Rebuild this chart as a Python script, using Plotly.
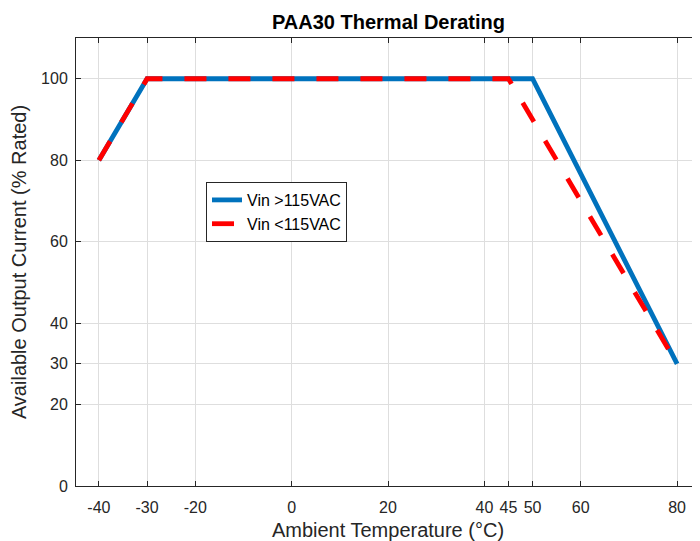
import plotly.graph_objects as go

# Data
temp_high = [-40, -30, 50, 80]
curr_high = [80, 100, 100, 30]
temp_low = [-40, -30, 45, 80]
curr_low = [80, 100, 100, 30]
x_ticks = [-40, -30, -20, 0, 20, 40, 45, 50, 60, 80]
x_tick_labels = ["-40", "-30", "-20", "0", "20", "40", "45", "50", "60", "80"]
y_ticks = [0, 20, 30, 40, 60, 80, 100]

FONT = "Liberation Sans, Arial, Helvetica, sans-serif"
AX = "#262626"

# page body has an 8px default margin: figure is sized/positioned to compensate
W, H = 692, 533

fig = go.Figure()
fig.add_trace(go.Scatter(x=temp_high, y=curr_high, mode="lines", name="Vin >115VAC",
                         line=dict(color="#0072BD", width=4.8)))
fig.add_trace(go.Scatter(x=temp_low, y=curr_low, mode="lines", name="Vin <115VAC",
                         line=dict(color="#FF0000", width=4.8, dash="22px,22px")))

axis_common = dict(showline=True, linecolor=AX, linewidth=1, mirror="ticks",
                   ticks="inside", ticklen=5, tickcolor=AX, automargin=False,
                   showgrid=True, gridcolor="#dedede", gridwidth=1,
                   zeroline=False, tickfont=dict(family=FONT, size=16, color=AX))

fig.update_layout(
    width=W, height=H,
    margin=dict(l=68, r=0, t=30, b=55),
    plot_bgcolor="white", paper_bgcolor="white",
    title=dict(text="<b>PAA30 Thermal Derating</b>", x=380.5 / W, xanchor="center",
               y=1 - 14 / H, yanchor="middle", yref="container",
               font=dict(family=FONT, size=20, color="black")),
    xaxis=dict(range=[-44.75, 84.75], tickvals=x_ticks, ticktext=x_tick_labels,
               ticklabelstandoff=7,
               title=dict(text="Ambient Temperature (°C)", standoff=9,
                          font=dict(family=FONT, size=20, color=AX)),
               **axis_common),
    yaxis=dict(range=[0, 110], tickvals=y_ticks, ticklabelstandoff=4,
               title=dict(text="Available Output Current (% Rated)", standoff=16,
                          font=dict(family=FONT, size=20, color=AX)),
               **axis_common),
    legend=dict(x=(206 - 76) / 624, y=(486 - 182) / 448, xanchor="left", yanchor="top",
                bgcolor="white", bordercolor=AX, borderwidth=1,
                font=dict(family=FONT, size=16, color="black"), tracegroupgap=0),
    showlegend=True,
)

fig.write_html("out.html")
